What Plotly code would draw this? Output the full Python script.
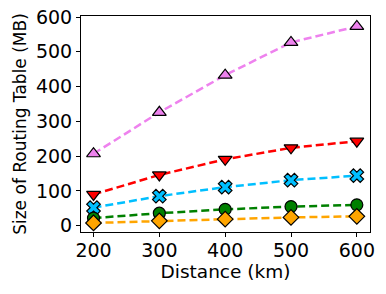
import plotly.graph_objects as go

distance = [200, 300, 400, 500, 600]
s_violet = [207, 326, 433, 527, 573]
s_red = [90, 146, 191, 224, 243]
s_blue = [52, 85, 111, 131, 144]
s_green = [22, 36, 47, 55, 60]
s_orange = [8, 14, 19, 24, 27]

series = [
    (s_violet, "violet", "triangle-up", 12),
    (s_red, "red", "triangle-down", 12),
    (s_blue, "deepskyblue", "x", 12),
    (s_green, "green", "circle", 12),
    (s_orange, "orange", "diamond", 12),
]

fig = go.Figure()
for vals, col, sym, sz in series:
    fig.add_trace(go.Scatter(
        x=distance, y=vals, mode="lines+markers",
        line=dict(color=col, width=2.5, dash="8px,4px"),
        marker=dict(symbol=sym, size=sz, color=col, line=dict(color="black", width=1.2)),
        showlegend=False, cliponaxis=False,
    ))

fig.update_layout(
    width=386, height=294,
    margin=dict(l=81, r=16, t=16, b=62),
    paper_bgcolor="white", plot_bgcolor="white",
    font=dict(family="DejaVu Sans", color="black"),
)
fig.update_xaxes(
    range=[181, 620], tickvals=distance, ticktext=[str(v) for v in distance],
    ticks="outside", ticklen=4, tickcolor="black", automargin=False,
    tickfont=dict(size=19), showgrid=False, zeroline=False, ticklabelstandoff=-3,
    showline=True, linecolor="black", linewidth=1, mirror=True,
    title=dict(text="Distance (km)", font=dict(size=18.5), standoff=2),
)
fig.update_yaxes(
    range=[-18, 603], tickvals=[0, 100, 200, 300, 400, 500, 600],
    ticks="outside", ticklen=4, tickcolor="black", automargin=False,
    tickfont=dict(size=19), showgrid=False, zeroline=False,
    showline=True, linecolor="black", linewidth=1, mirror=True,
    title=dict(text="Size of Routing Table (MB)", font=dict(size=17), standoff=4),
)
fig.write_html("out.html", config={"displayModeBar": False},
               post_script="document.body.style.margin='0px';")
